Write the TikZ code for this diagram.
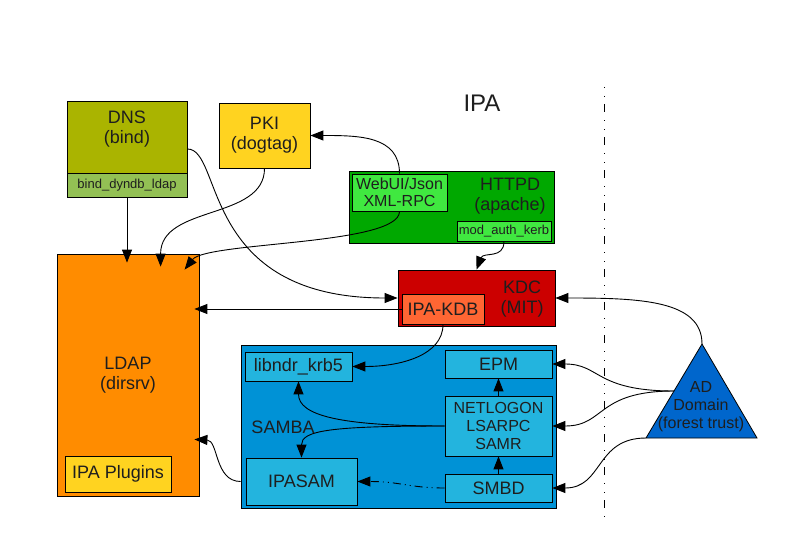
\documentclass[tikz,border=0pt]{standalone}
\usepackage{fontspec}
\setmainfont{Liberation Sans}
\usetikzlibrary{arrows.meta,calc}
\definecolor{txt}{RGB}{30,30,30}
\definecolor{dnsc}{RGB}{170,180,0}
\definecolor{dnsplugc}{RGB}{147,192,84}
\definecolor{yel}{RGB}{255,211,32}
\definecolor{ldapc}{RGB}{255,140,0}
\definecolor{httpdc}{RGB}{0,168,0}
\definecolor{lgreen}{RGB}{64,232,64}
\definecolor{kdcc}{RGB}{204,0,0}
\definecolor{kdbc}{RGB}{255,102,51}
\definecolor{sambac}{RGB}{0,146,214}
\definecolor{sambain}{RGB}{35,180,222}
\definecolor{adc}{RGB}{0,102,204}
\begin{document}
\begin{tikzpicture}[x=1pt,y=-1pt,
  box/.style={draw=black, line width=0.8pt, inner sep=0pt, align=center, text=txt},
  lbl/.style={inner sep=0pt, align=center, text=txt},
  big/.style={font=\fontsize{18}{20}\selectfont},
  mid/.style={font=\fontsize{16}{18}\selectfont},
  small/.style={font=\fontsize{13}{15}\selectfont},
  arr/.style={draw=black, line width=0.9pt, -{Triangle[length=13pt,width=10pt]}},
  dashdotdot/.style={dash pattern=on 1pt off 8pt on 1pt off 7pt on 8pt off 8pt},
  dashdotline/.style={dash pattern=on 8pt off 4pt on 1pt off 4pt on 1pt off 4pt},
  ]
\useasboundingbox (0,0) rectangle (794,559);

% title
\node[lbl, font=\fontsize{24}{26}\selectfont] (ipatxt) at (482,103) {IPA};

% separator
\draw[line width=1pt, dashdotdot] (604,87) -- (604,522);

% DNS
\node[box, fill=dnsc, minimum width=120, minimum height=72] (dns) at (127,137) {};
\node[lbl, big] (dnstxt) at (127,129) {DNS\\(bind)};
\node[box, fill=dnsplugc, minimum width=120, minimum height=24, small] (dnsplug) at (127,185) {bind\_dyndb\_ldap};

% PKI
\node[box, fill=yel, minimum width=91, minimum height=65, big] (pki) at (264.5,135.5) {PKI\\(dogtag)};

% HTTPD
\node[box, fill=httpdc, minimum width=205, minimum height=72] (httpd) at (451.5,207) {};
\node[lbl, big] (httpdtxt) at (510,196.5) {HTTPD\\(apache)};
\node[box, fill=lgreen, minimum width=95, minimum height=37, font=\fontsize{16}{17.5}\selectfont] (webui) at (399.5,192.5) {WebUI/Json\\XML-RPC};
\node[box, fill=lgreen, minimum width=94, minimum height=20, small] (modauth) at (504,231) {mod\_auth\_kerb};

% KDC
\node[box, fill=kdcc, minimum width=157, minimum height=56] (kdc) at (476.5,298) {};
\node[lbl, big] (kdctxt) at (522,299.5) {KDC\\(MIT)};
\node[box, fill=kdbc, minimum width=82, minimum height=30, big] (ipakdb) at (443,309) {IPA-KDB};

% LDAP
\node[box, fill=ldapc, minimum width=142, minimum height=242, big] (ldap) at (128,375) {LDAP\\(dirsrv)};
\node[box, fill=yel, minimum width=106, minimum height=36, big] (plugins) at (118,474) {IPA Plugins};

% SAMBA
\node[box, fill=sambac, minimum width=315, minimum height=163] (samba) at (398.5,426.5) {};
\node[lbl, big] (sambatxt) at (283,427) {SAMBA};
\node[box, fill=sambain, minimum width=107, minimum height=29, big] (libndr) at (298.5,366.5) {libndr\_krb5};
\node[box, fill=sambain, minimum width=107, minimum height=28, big] (epm) at (498.5,364) {EPM};
\node[box, fill=sambain, minimum width=107, minimum height=60, mid] (netlogon) at (498.5,426) {NETLOGON\\LSARPC\\SAMR};
\node[box, fill=sambain, minimum width=111, minimum height=47, big] (ipasam) at (301.5,481.5) {IPASAM};
\node[box, fill=sambain, minimum width=107, minimum height=28, big] (smbd) at (498.5,488) {SMBD};

% AD domain triangle
\coordinate (adtop) at (702,344);
\coordinate (adleft) at (646,438);
\coordinate (adright) at (757,438);
\coordinate (adw) at ($(adtop)!0.5!(adleft)$);
\filldraw[fill=adc, draw=black, line width=0.8pt] (adtop) -- (adright) -- (adleft) -- cycle;
\node[lbl, mid] (adtxt) at (701,407) {AD\\Domain\\(forest trust)};

% connectors
\draw[arr] (dnsplug.south) -- ($(dnsplug.south |- ldap.north)+(0,9)$);
\draw[arr] (pki.south) .. controls +(0,52) and +(0,-62) .. ($(ldap.north west)+(104,13)$);
\draw[arr] (webui.south) .. controls +(0,34) and +(22,-28) .. ($(ldap.north west)+(128,16)$);
\draw[arr] (webui.north) .. controls +(0,-38) and +(48,0) .. (pki.east);
\draw[arr] ($(dns.east)+(0,12)$) .. controls +(36,0) and +(-198,0) .. (kdc.west);
\draw[arr] (ipakdb.west) -- ($(ldap.east |- ipakdb.west)+(-5,0)$);
\draw[arr] (modauth.south) .. controls +(0,18) and +(7,-18) .. (kdc.north);
\draw[arr] (ipakdb.south) .. controls +(0,31) and +(48,0) .. (libndr.east);
\draw[arr] (adtop) .. controls +(0,-44) and +(84,0) .. (kdc.east);
\draw[arr] (adw) .. controls +(-79,0) and +(48,0) .. (epm.east);
\draw[arr] (adw) .. controls +(-78,0) and +(53,0) .. (netlogon.east);
\draw[arr] (adleft) .. controls +(-51,0) and +(51,0) .. (smbd.east);
\draw[arr] (netlogon.north) -- (epm.south);
\draw[arr] (smbd.north) -- (netlogon.south);
\draw[arr] (netlogon.west) .. controls +(-105,0) and +(0,34) .. (libndr.south);
\draw[arr] (netlogon.west) .. controls +(-115,0) and +(0,-27) .. (ipasam.north);
\draw[arr, dashdotline] (smbd.west) .. controls +(-35,0) and +(43,0) .. (ipasam.east);
\draw[arr] (samba.west |- ipasam.west) .. controls +(-26,0) and +(24,1) .. ($(ldap.south east)+(-5,-57)$);
\end{tikzpicture}
\end{document}
